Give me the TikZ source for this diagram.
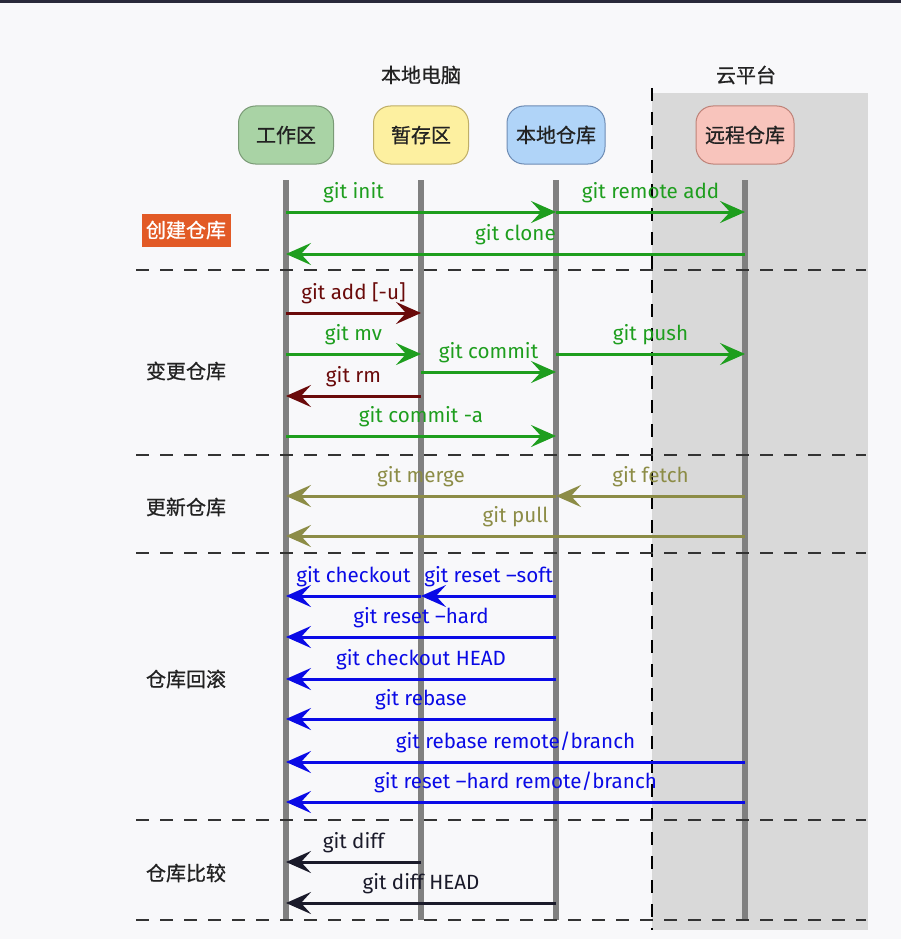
\documentclass[tikz,border=0pt]{standalone}
\usepackage{fontspec}
\setmainfont{Fira Sans}
\newfontfamily\cjk[FakeBold=0.8]{Noto Sans CJK SC}
\usetikzlibrary{arrows.meta}
\definecolor{bgc}{HTML}{F8F8FA}
\definecolor{topbar}{HTML}{2A2A3A}
\definecolor{cloudc}{HTML}{D9D9D9}
\definecolor{lifec}{HTML}{808080}
\definecolor{dashc}{HTML}{333333}
\definecolor{wfill}{HTML}{A9D3A5}\definecolor{wdraw}{HTML}{7A9A76}
\definecolor{sfill}{HTML}{FDF0A0}\definecolor{sdraw}{HTML}{BFAE66}
\definecolor{lfill}{HTML}{B0D4F8}\definecolor{ldraw}{HTML}{6E8CB4}
\definecolor{rfill}{HTML}{F8C4BC}\definecolor{rdraw}{HTML}{BE8278}
\definecolor{gc}{HTML}{1E9E1E}
\definecolor{rc}{HTML}{6A0A0A}
\definecolor{oc}{HTML}{8C8C46}
\definecolor{bc}{HTML}{0A0AE6}
\definecolor{kc}{HTML}{1A1A2A}
\definecolor{orangec}{HTML}{E25A26}
\definecolor{txtc}{HTML}{222222}
\tikzset{
  party/.style={rounded corners=17pt, minimum width=95pt, minimum height=58pt, line width=1pt, font=\cjk\fontsize{20}{24}\selectfont, text=txtc},
  lifeline/.style={line width=6pt, draw=lifec},
  sep/.style={draw=dashc, line width=1.6pt, dash pattern=on 13pt off 11pt},
  vsep/.style={draw=black, line width=1.6pt, dash pattern=on 13pt off 11pt},
  msg/.style={line width=3pt, -{Stealth[length=25pt,width=22pt,inset=10pt]}},
  lbl/.style={anchor=base, yshift=14pt, font=\fontsize{20.6}{24}\selectfont, inner sep=0pt},
  sect/.style={font=\cjk\fontsize{20}{24}\selectfont, text=txtc},
  grp/.style={font=\cjk\fontsize{20}{24}\selectfont, text=txtc}
}
\begin{document}
\begin{tikzpicture}[x=1pt,y=-1pt]
\useasboundingbox (0,0) rectangle (901,939);
\fill[bgc] (0,0) rectangle (901,939);
\fill[topbar] (0,0) rectangle (901,3);
\fill[cloudc] (652,93) rectangle (868,930);
\draw[vsep] (652,88) -- (652,930);

\node[grp] (gl) at (421,75) {本地电脑};
\node[grp] (gc) at (746,75) {云平台};

\node[party, fill=wfill, draw=wdraw] (W) at (286,135) {工作区};
\node[party, fill=sfill, draw=sdraw] (S) at (421,135) {暂存区};
\node[party, fill=lfill, draw=ldraw, minimum width=98pt] (L) at (556,135) {本地仓库};
\node[party, fill=rfill, draw=rdraw, minimum width=98pt] (R) at (745,135) {远程仓库};

\foreach \n in {W,S,L,R} {
  \coordinate (\n t) at (\n |- 0,180);
  \coordinate (\n b) at (\n |- 0,920);
  \draw[lifeline] (\n t) -- (\n b);
}

\foreach \yy in {270,455,553,820,920} {
  \draw[sep] (136,\yy) -- (866,\yy);
}

\node[sect, fill=orangec, text=white, minimum width=89pt, minimum height=33pt, inner sep=0pt] (s1) at (186,230) {创建仓库};
\node[sect] (s2) at (186,371) {变更仓库};
\node[sect] (s3) at (186,507) {更新仓库};
\node[sect] (s4) at (186,679) {仓库回滚};
\node[sect] (s5) at (186,873) {仓库比较};

% create
\draw[msg, gc] (W |- 0,212) -- node[lbl, text=gc, pos=0.25] {git init} (L |- 0,212);
\draw[msg, gc] (L |- 0,212) -- node[lbl, text=gc] {git remote add} (R |- 0,212);
\draw[msg, gc] (R |- 0,254) -- node[lbl, text=gc] {git clone} (W |- 0,254);
% change
\draw[msg, rc] (W |- 0,313) -- node[lbl, text=rc] {git add [-u]} (S |- 0,313);
\draw[msg, gc] (W |- 0,354) -- node[lbl, text=gc] {git mv} (S |- 0,354);
\draw[msg, gc] (S |- 0,372) -- node[lbl, text=gc] {git commit} (L |- 0,372);
\draw[msg, gc] (L |- 0,354) -- node[lbl, text=gc] {git push} (R |- 0,354);
\draw[msg, rc] (S |- 0,396) -- node[lbl, text=rc] {git rm} (W |- 0,396);
\draw[msg, gc] (W |- 0,436) -- node[lbl, text=gc] {git commit -a} (L |- 0,436);
% update
\draw[msg, oc] (L |- 0,496) -- node[lbl, text=oc] {git merge} (W |- 0,496);
\draw[msg, oc] (R |- 0,496) -- node[lbl, text=oc] {git fetch} (L |- 0,496);
\draw[msg, oc] (R |- 0,536) -- node[lbl, text=oc] {git pull} (W |- 0,536);
% rollback
\draw[msg, bc] (S |- 0,596) -- node[lbl, text=bc] {git checkout} (W |- 0,596);
\draw[msg, bc] (L |- 0,596) -- node[lbl, text=bc] {git reset –soft} (S |- 0,596);
\draw[msg, bc] (L |- 0,637) -- node[lbl, text=bc] {git reset –hard} (W |- 0,637);
\draw[msg, bc] (L |- 0,679) -- node[lbl, text=bc] {git checkout HEAD} (W |- 0,679);
\draw[msg, bc] (L |- 0,719) -- node[lbl, text=bc] {git rebase} (W |- 0,719);
\draw[msg, bc] (R |- 0,762) -- node[lbl, text=bc] {git rebase remote/branch} (W |- 0,762);
\draw[msg, bc] (R |- 0,802) -- node[lbl, text=bc] {git reset –hard remote/branch} (W |- 0,802);
% compare
\draw[msg, kc] (S |- 0,862) -- node[lbl, text=kc] {git diff} (W |- 0,862);
\draw[msg, kc] (L |- 0,903) -- node[lbl, text=kc] {git diff HEAD} (W |- 0,903);
\end{tikzpicture}
\end{document}
